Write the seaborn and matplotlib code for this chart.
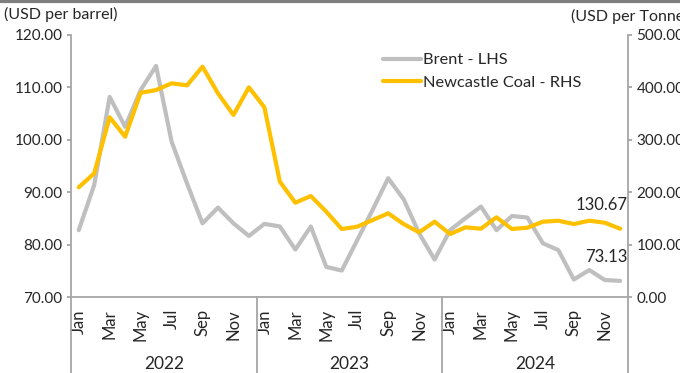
import numpy as np
import pandas as pd
import seaborn as sns
import matplotlib.pyplot as plt

# monthly data, Jan 2022 - Dec 2024
months = ['Jan', 'Feb', 'Mar', 'Apr', 'May', 'Jun',
          'Jul', 'Aug', 'Sep', 'Oct', 'Nov', 'Dec']
years = ['2022', '2023', '2024']

brent = [82.8, 91.4, 108.2, 102.5, 109.5, 114.1, 99.7, 91.7, 84.1, 87.1, 84.1, 81.7,
         84.0, 83.5, 79.1, 83.5, 75.8, 75.1, 80.9, 86.7, 92.7, 88.7, 82.2, 77.2,
         82.8, 85.1, 87.3, 82.8, 85.5, 85.2, 80.3, 79.0, 73.4, 75.2, 73.3, 73.13]
coal = [209.7, 236.3, 343.1, 306.1, 389.9, 395.0, 407.9, 404.0, 439.6, 388.8, 347.5, 400.3,
        362.1, 220.4, 180.3, 193.1, 163.2, 130.2, 134.6, 147.3, 160.1, 139.7, 123.9, 144.1,
        120.6, 133.4, 130.8, 152.5, 130.2, 132.7, 144.1, 146.0, 139.7, 146.0, 142.2, 130.67]

left_ticks = [70, 80, 90, 100, 110, 120]
right_ticks = [0, 100, 200, 300, 400, 500]

df = pd.DataFrame({
    'idx': np.arange(len(brent)),
    'month': months * len(years),
    'year': np.repeat(years, 12),
    'brent': brent,
    'coal': coal,
})

sns.set_style('white')
plt.rcParams['font.family'] = ['Lato', 'DejaVu Sans']
txt = '#262626'
axc = '#A6A6A6'

fig = plt.figure(figsize=(6.8, 3.73), dpi=100)
ax = fig.add_axes([0.1044, 0.2029, 0.8191, 0.7033])
ax2 = ax.twinx()

sns.lineplot(data=df, x='idx', y='brent', ax=ax, color='#BFBFBF', linewidth=3,
             label='Brent - LHS', legend=False)
sns.lineplot(data=df, x='idx', y='coal', ax=ax2, color='#FFC000', linewidth=3,
             label='Newcastle Coal - RHS', legend=False)

n = len(df)
ax.set_xlim(-0.5, n - 0.5)
ax.set_ylim(70, 120)
ax2.set_ylim(0, 500)
ax.set_yticks(left_ticks)
ax.set_yticklabels([f'{v:.2f}' for v in left_ticks])
ax2.set_yticks(right_ticks)
ax2.set_yticklabels([f'{v:.2f}' for v in right_ticks])
ax.set_xlabel('')
ax.set_ylabel('')
ax2.set_ylabel('')

# month labels every other month, boundary ticks between all months
lab_pos = df['idx'][::2]
ax.set_xticks(lab_pos)
ax.set_xticklabels(df['month'][::2], rotation=90)
ax.set_xticks(np.arange(n + 1) - 0.5, minor=True)
ax.tick_params(axis='x', which='major', length=0, pad=8.5, labelsize=12, colors=txt)
ax.tick_params(axis='x', which='minor', length=32.5, width=1.3, color=axc)
ax.tick_params(axis='y', length=3, width=1.3, color=axc, labelsize=11, labelcolor=txt, pad=3)
ax2.tick_params(axis='y', length=3, width=1.3, color=axc, labelsize=11, labelcolor=txt, pad=3)

for a in (ax, ax2):
    for s in a.spines.values():
        s.set_visible(False)
    a.spines['left'].set_visible(a is ax)
    a.spines['right'].set_visible(a is ax2)
    a.spines['bottom'].set_visible(a is ax)
    for s in a.spines.values():
        s.set_color(axc)
        s.set_linewidth(1.3)
    a.grid(False)

# year groups under the months
for k, yr in enumerate(years):
    ax.axvline(k * 12 - 0.5, ymin=-0.29, ymax=0, color=axc, lw=1.3, clip_on=False)
    ax.text(k * 12 + 5.5, -0.255, yr, transform=ax.get_xaxis_transform(),
            ha='center', va='center', fontsize=12.5, color=txt)
ax.axvline(n - 0.5, ymin=-0.29, ymax=0, color=axc, lw=1.3, clip_on=False)

# end labels
ax.annotate(f'{brent[-1]:.2f}', (n - 1, brent[-1]), xytext=(5, 11.5),
            textcoords='offset points', ha='right', va='bottom', fontsize=12, color=txt)
ax2.annotate(f'{coal[-1]:.2f}', (n - 1, coal[-1]), xytext=(5, 11.5),
             textcoords='offset points', ha='right', va='bottom', fontsize=12, color=txt)

fig.text(0.006, 0.96, '(USD per barrel)', ha='left', va='center', fontsize=11.5, color=txt)
fig.text(0.84, 0.955, '(USD per Tonnes)', ha='left', va='center', fontsize=11.5, color=txt)

h1, l1 = ax.get_legend_handles_labels()
h2, l2 = ax2.get_legend_handles_labels()
fig.legend(h1 + h2, l1 + l2, loc='upper left', bbox_to_anchor=(0.551, 0.88),
           frameon=False, fontsize=11.8, handlelength=2.3, handletextpad=0.15,
           labelspacing=0.5, borderpad=0, labelcolor=txt)

fig.add_artist(plt.Line2D([0, 1], [0.997, 0.997], color='#7F7F7F', lw=3))

fig.savefig('out.png', dpi=100)
